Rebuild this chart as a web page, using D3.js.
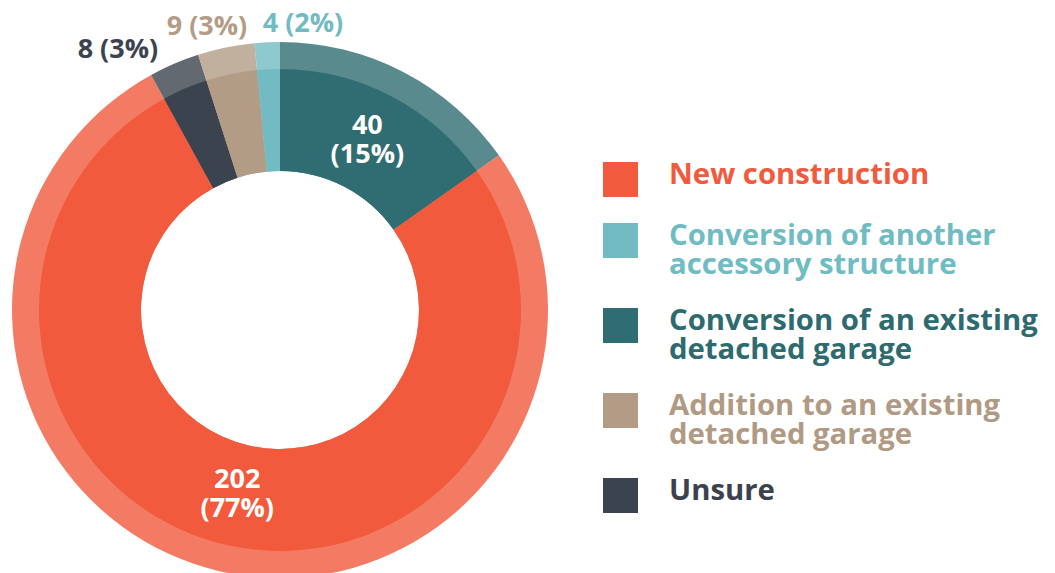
<!DOCTYPE html>
<html><head><meta charset="utf-8">
<script src="https://cdn.jsdelivr.net/npm/d3@7"></script>
<style>
html,body{margin:0;padding:0;background:#fff;}
svg{display:block;font-family:"Open Sans",sans-serif;font-weight:700;}
</style></head>
<body><svg id="c" width="1055" height="573"></svg>
<script>
// Data (clockwise from 12 o'clock)
const categories = ["Conversion of an existing detached garage","New construction","Unsure","Addition to an existing detached garage","Conversion of another accessory structure"];
const values = [40, 202, 8, 9, 4];
const percents = ["15%","77%","3%","3%","2%"];
const colors = ["#306D72","#F15A3C","#3B434E","#B39C86","#72BBC3"];

// Legend order and wrapped labels
const legendOrder = ["New construction","Conversion of another accessory structure","Conversion of an existing detached garage","Addition to an existing detached garage","Unsure"];
const legendLines = [["New construction"],["Conversion of another","accessory structure"],["Conversion of an existing","detached garage"],["Addition to an existing","detached garage"],["Unsure"]];
const legendTextColors = ["#F15A3C","#6FBCC3","#2E6B70","#B09A84","#3B424D"];

const svg = d3.select("#c");
const cx = 280, cy = 310;
const rIn = 139, rMid = 241, rOut = 268;

const color = d3.scaleOrdinal().domain(categories).range(colors);
const data = categories.map((c,i)=>({cat:c, value:values[i], pct:percents[i]}));
const pie = d3.pie().value(d=>d.value).sort(null);
const arcs = pie(data);

const g = svg.append("g").attr("transform",`translate(${cx},${cy})`);
const arcOuter = d3.arc().innerRadius(rIn).outerRadius(rOut);
const arcInner = d3.arc().innerRadius(rIn).outerRadius(rMid);

g.selectAll("path.outer").data(arcs).join("path").attr("class","outer")
  .attr("d",arcOuter).attr("fill",d=>color(d.data.cat)).attr("fill-opacity",0.8);
g.selectAll("path.inner").data(arcs).join("path").attr("class","inner")
  .attr("d",arcInner).attr("fill",d=>color(d.data.cat));

// Inside labels for large slices
const labelArc = d3.arc().innerRadius(rIn).outerRadius(rMid);
arcs.filter(d=>d.data.value>=20).forEach(d=>{
  const [x,y] = labelArc.centroid(d);
  const t = g.append("text").attr("text-anchor","middle").attr("fill","#fff")
    .attr("font-size",27).attr("x",x).attr("y",y-7);
  t.append("tspan").attr("x",x).text(d.data.value);
  t.append("tspan").attr("x",x).attr("dy",29).text(`(${d.data.pct})`);
});

// Outside labels for small slices
const outsideCfg = {
  "Unsure":{anchor:"end",dx:-12,dy:3.5},
  "Addition to an existing detached garage":{anchor:"middle",dx:-17,dy:-2.6},
  "Conversion of another accessory structure":{anchor:"start",dx:-4,dy:0}
};
const rLab = 278;
arcs.filter(d=>d.data.value<20).forEach(d=>{
  const a = (d.startAngle+d.endAngle)/2;
  const cfg = outsideCfg[d.data.cat];
  const x = rLab*Math.sin(a)+cfg.dx, y = -rLab*Math.cos(a)+cfg.dy;
  g.append("text").attr("x",x).attr("y",y).attr("text-anchor",cfg.anchor)
    .attr("font-size",27).attr("fill",color(d.data.cat))
    .text(`${d.data.value} (${d.data.pct})`);
});

// Legend
const lg = svg.append("g");
let y = 162;
legendOrder.forEach((c,i)=>{
  const lines = legendLines[i];
  lg.append("rect").attr("x",603).attr("y",y).attr("width",35).attr("height",35).attr("fill",color(c));
  const t = lg.append("text").attr("x",669).attr("y",y+22).attr("font-size",29.3).attr("fill",legendTextColors[i]);
  lines.forEach((l,j)=>t.append("tspan").attr("x",669).attr("dy",j?29:0).text(l));
  y += lines.length>1 ? 85 : 61;
});
</script></body></html>
